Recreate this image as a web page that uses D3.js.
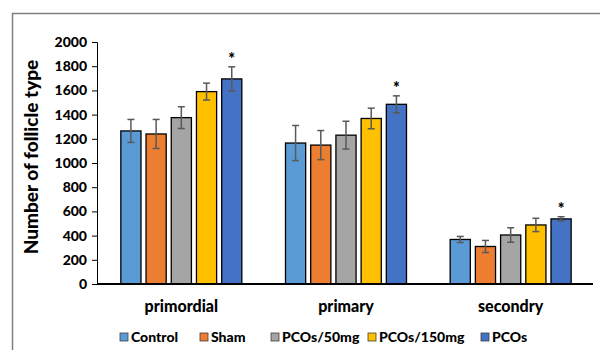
<!DOCTYPE html>
<html>
<head>
<meta charset="utf-8">
<script src="https://cdn.jsdelivr.net/npm/d3@7"></script>
<style>
  body { margin: 0; background: #fff; }
  text { font-family: Lato, "Open Sans", sans-serif; font-weight: 900; fill: #000; }
</style>
</head>
<body>
<div id="chart"></div>
<script>
var svgWidth = 600;
var svgHeight = 350;

// data
var categories = ["primordial", "primary", "secondry"];
var groups = ["Control", "Sham", "PCOs/50mg", "PCOs/150mg", "PCOs"];
var colors = ["#5B9BD5", "#ED7D31", "#A5A5A5", "#FFC000", "#4472C4"];
var means = [
  [1265, 1240, 1375, 1590, 1695],
  [1165, 1148, 1230, 1368, 1485],
  [368, 310, 405, 488, 538]
];
var errors = [
  [95, 120, 90, 70, 100],
  [145, 120, 115, 85, 70],
  [25, 50, 60, 55, 18]
];
var starred = [[4], [4], [4]];
var yTicks = [0, 200, 400, 600, 800, 1000, 1200, 1400, 1600, 1800, 2000];

var svg = d3.select("#chart")
  .append("svg")
  .attr("width", svgWidth)
  .attr("height", svgHeight);

// outer frame
svg.append("path")
  .attr("d", "M12.5,360 V13.5 H610")
  .attr("fill", "none")
  .attr("stroke", "#7f7f7f")
  .attr("stroke-width", 1.5);

var x0 = d3.scaleBand()
  .domain(categories)
  .range([99, 593]);

var groupWidth = 121;
var x1 = d3.scaleBand()
  .domain(groups)
  .range([0, groupWidth])
  .paddingInner(0.2);

var y = d3.scaleLinear()
  .domain([0, 2000])
  .range([284, 42]);

// y axis
var yAxis = svg.append("g")
  .attr("transform", "translate(97,0)")
  .call(d3.axisLeft(y).tickValues(yTicks).tickFormat(d3.format("d")).tickSize(5).tickPadding(5));
yAxis.select(".domain").attr("stroke", "#000").attr("stroke-width", 1);
yAxis.selectAll(".tick line").attr("stroke", "#000");
yAxis.selectAll("text")
  .attr("font-size", 14)
  .attr("font-family", "Lato, sans-serif")
  .attr("font-weight", 900)
  .attr("fill", "#000");

svg.append("text")
  .attr("transform", "translate(38,157) rotate(-90)")
  .attr("text-anchor", "middle")
  .attr("font-size", 19)
  .text("Number of follicle type");

var rows = categories.map(function (c, i) {
  return groups.map(function (g, j) {
    return { cat: c, group: g, color: colors[j], v: means[i][j], e: errors[i][j], star: starred[i].indexOf(j) >= 0 };
  });
});

var cat = svg.selectAll(".cat")
  .data(rows)
  .enter()
  .append("g")
  .attr("class", "cat")
  .attr("transform", function (d, i) { return "translate(" + (x0(categories[i]) + (x0.bandwidth() - groupWidth) / 2) + ",0)"; });

cat.selectAll("rect")
  .data(function (d) { return d; })
  .enter()
  .append("rect")
  .attr("x", function (d) { return x1(d.group); })
  .attr("y", function (d) { return y(d.v); })
  .attr("width", x1.bandwidth())
  .attr("height", function (d) { return y(0) - y(d.v); })
  .attr("fill", function (d) { return d.color; })
  .attr("stroke", "#000")
  .attr("stroke-width", 1.3);

// error bars
var eb = cat.selectAll(".eb")
  .data(function (d) { return d; })
  .enter()
  .append("g")
  .attr("class", "eb")
  .attr("stroke", "#595959")
  .attr("stroke-width", 1.5);
eb.append("line")
  .attr("x1", function (d) { return x1(d.group) + x1.bandwidth() / 2; })
  .attr("x2", function (d) { return x1(d.group) + x1.bandwidth() / 2; })
  .attr("y1", function (d) { return y(d.v - d.e); })
  .attr("y2", function (d) { return y(d.v + d.e); });
eb.append("line")
  .attr("x1", function (d) { return x1(d.group) + x1.bandwidth() / 2 - 3.5; })
  .attr("x2", function (d) { return x1(d.group) + x1.bandwidth() / 2 + 3.5; })
  .attr("y1", function (d) { return y(d.v + d.e); })
  .attr("y2", function (d) { return y(d.v + d.e); });
eb.append("line")
  .attr("x1", function (d) { return x1(d.group) + x1.bandwidth() / 2 - 3.5; })
  .attr("x2", function (d) { return x1(d.group) + x1.bandwidth() / 2 + 3.5; })
  .attr("y1", function (d) { return y(d.v - d.e); })
  .attr("y2", function (d) { return y(d.v - d.e); });

cat.selectAll(".star")
  .data(function (d) { return d.filter(function (r) { return r.star; }); })
  .enter()
  .append("text")
  .attr("class", "star")
  .attr("x", function (d) { return x1(d.group) + x1.bandwidth() / 2; })
  .attr("y", function (d) { return y(d.v + d.e) - 2; })
  .attr("text-anchor", "middle")
  .attr("font-size", 16)
  .attr("font-weight", "bold")
  .attr("fill", "#222")
  .text("*");

// x axis
var xAxis = svg.append("g")
  .attr("transform", "translate(0,284)")
  .call(d3.axisBottom(x0).tickSize(0).tickPadding(17));
xAxis.select(".domain").attr("stroke", "#000").attr("stroke-width", 2).attr("d", "M97,0H593");
xAxis.selectAll("text")
  .attr("font-size", 16)
  .attr("font-family", "Lato, sans-serif")
  .attr("font-weight", 900)
  .attr("fill", "#000");

// legend
var legendX = [120, 200, 271, 368, 481];
var legend = svg.selectAll(".legend")
  .data(groups)
  .enter()
  .append("g")
  .attr("class", "legend")
  .attr("transform", function (d, i) { return "translate(" + legendX[i] + ",333)"; });
legend.append("rect")
  .attr("width", 8)
  .attr("height", 8)
  .attr("fill", function (d, i) { return colors[i]; })
  .attr("stroke", "#404040")
  .attr("stroke-width", 0.8);
legend.append("text")
  .attr("x", 11)
  .attr("y", 9)
  .attr("font-size", 14)
  .text(function (d) { return d; });
</script>
</body>
</html>
